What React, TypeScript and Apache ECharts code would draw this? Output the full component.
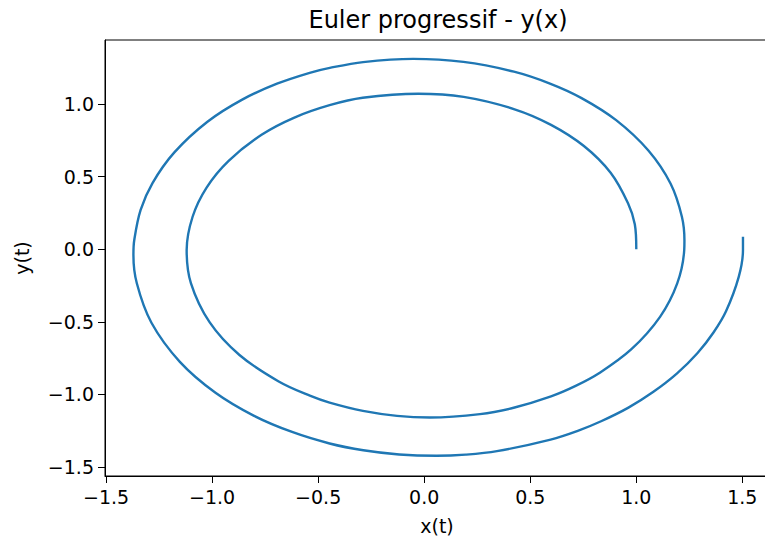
import React, { useEffect, useRef } from "react";
import * as echarts from "echarts";

// Forward Euler trajectory, sampled along the spiral: x(t) and y(t)
const xValues = [
  1.0, 0.993, 0.961, 0.879, 0.753, 0.598, 0.426, 0.186, -0.028, -0.29, -0.446,
  -0.612, -0.765, -0.922, -1.026, -1.092, -1.12, -1.1, -1.012, -0.871, -0.686,
  -0.536, -0.446, -0.289, -0.128, 0.027, 0.263, 0.422, 0.598, 0.714, 0.826, 0.977, 1.112,
  1.193, 1.226, 1.227, 1.215, 1.162, 1.057, 0.905, 0.742, 0.593, 0.423,
  0.185, -0.052, -0.288, -0.445, -0.54, -0.694, -0.856, -1.022, -1.178, -1.281,
  -1.337, -1.367, -1.371, -1.355, -1.286, -1.152, -0.984, -0.802, -0.623, -0.446,
  -0.287, -0.118, 0.058, 0.195, 0.343, 0.596, 0.724, 0.834, 0.963, 1.079, 1.191,
  1.289, 1.364, 1.423, 1.483, 1.503, 1.503,
];
const yValues = [
  0.0, 0.171, 0.316, 0.526, 0.71, 0.856, 0.963, 1.048, 1.07, 1.042, 0.991,
  0.906, 0.789, 0.608, 0.424, 0.223, -0.006, -0.234, -0.503, -0.729, -0.911,
  -1.011, -1.057, -1.114, -1.148, -1.159, -1.136, -1.092, -1.014, -0.942, -0.853, -0.689, -0.466,
  -0.236, -0.006, 0.06, 0.223, 0.45, 0.679, 0.888, 1.04, 1.14, 1.222,
  1.289, 1.31, 1.288, 1.248, 1.214, 1.139, 1.031, 0.877, 0.666, 0.455,
  0.27, 0.063, -0.04, -0.235, -0.507, -0.776, -0.989, -1.148, -1.259, -1.338,
  -1.385, -1.414, -1.423, -1.415, -1.391, -1.311, -1.251, -1.185, -1.091, -0.984, -0.857,
  -0.715, -0.574, -0.428, -0.191, -0.006, 0.086,
];

const xTicks = [-1.5, -1.0, -0.5, 0.0, 0.5, 1.0, 1.5];
const yTicks = [-1.5, -1.0, -0.5, 0.0, 0.5, 1.0];

const FONT = '"DejaVu Sans", "Liberation Sans", sans-serif';
const INK = "#000";
const LABEL_SIZE = 19;

const fmt = (v: number) => v.toFixed(1).replace("-", "\u2212");

export default function App() {
  const ref = useRef<HTMLDivElement>(null);

  useEffect(() => {
    if (!ref.current) return;
    const chart = echarts.init(ref.current, undefined, { renderer: "svg" });
    const points = xValues.map((x, i) => [x, yValues[i]]);

    const axisCommon = {
      type: "value",
      splitLine: { show: false },
      axisLine: { show: true, onZero: false, lineStyle: { color: INK, width: 1 } },
      axisTick: {
        show: true,
        length: 7,
        inside: false,
        lineStyle: { color: INK, width: 1 },
      },
    };

    chart.setOption({
      animation: false,
      backgroundColor: "#fff",
      grid: {
        left: 105,
        top: 40,
        width: 670,
        height: 436,
        show: true,
        borderColor: INK,
        borderWidth: 1,
        backgroundColor: "transparent",
      },
      xAxis: {
        ...axisCommon,
        min: -1.505,
        max: 1.654,
        axisTick: { ...axisCommon.axisTick, customValues: xTicks },
        axisLabel: {
          customValues: xTicks,
          formatter: fmt,
          color: INK,
          fontFamily: FONT,
          fontSize: LABEL_SIZE,
          margin: 11,
        },
      },
      yAxis: {
        ...axisCommon,
        min: -1.562,
        max: 1.44,
        axisTick: { ...axisCommon.axisTick, customValues: yTicks },
        axisLabel: {
          customValues: yTicks,
          formatter: fmt,
          color: INK,
          fontFamily: FONT,
          fontSize: LABEL_SIZE,
          margin: 11,
        },
      },
      graphic: [
        {
          type: "text",
          x: 438,
          y: 20,
          style: {
            text: "Euler progressif - y(x)",
            fill: INK,
            fontFamily: FONT,
            fontSize: 24,
            align: "center",
            verticalAlign: "middle",
          },
        },
        {
          type: "text",
          x: 437,
          y: 526,
          style: {
            text: "x(t)",
            fill: INK,
            fontFamily: FONT,
            fontSize: LABEL_SIZE,
            align: "center",
            verticalAlign: "middle",
          },
        },
        {
          type: "text",
          x: 22,
          y: 258,
          rotation: Math.PI / 2,
          style: {
            text: "y(t)",
            fill: INK,
            fontFamily: FONT,
            fontSize: LABEL_SIZE,
            align: "center",
            verticalAlign: "middle",
          },
        },
      ],
      series: [
        {
          type: "line",
          data: points,
          showSymbol: false,
          smooth: 0.35,
          lineStyle: { color: "#1f77b4", width: 2.4 },
          clip: true,
        },
      ],
    });

    return () => chart.dispose();
  }, []);

  return (
    <div
      style={{
        position: "fixed",
        left: 0,
        top: 0,
        width: 765,
        height: 540,
        overflow: "hidden",
        background: "#fff",
      }}
    >
      <div ref={ref} style={{ width: 790, height: 540 }} />
    </div>
  );
}
